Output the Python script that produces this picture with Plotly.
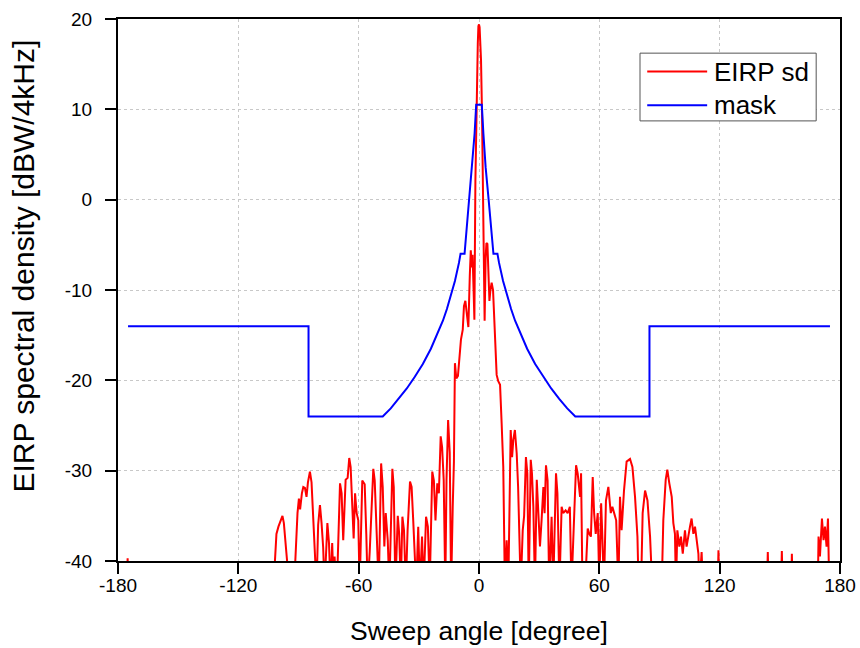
import plotly.graph_objects as go

# ---- EIRP spectral density ----
eirp_angle = [
    -180, -176, -175.2, -174.4, -150, -120, -103,
    -102, -101, -100, -99, -98, -97.3, -96.5, -95.5, -94.5, -92.5,
    -91.8, -91, -90.5, -89.8, -89.2, -88.3, -87.6, -86.8, -86, -85.3, -84.3, -83.5, -82.8, -82, -81,
    -80.2, -79.3, -78.5, -77.7, -77, -75.6, -74.8, -74, -73.2, -72.5, -72, -71,
    -69.3, -68.5, -67.7, -66.5, -65.5, -64.7, -64, -63.2, -62.5, -61.8, -61, -60.2, -59.5,
    -58.2, -57, -56.2, -55.5, -54.5, -53.7, -52.7, -52, -51, -50, -48.8, -48, -47.2, -46.5,
    -45.5, -44.7, -43.2, -42.5, -41.7, -40.5, -39.8, -39, -38.2, -37.4, -36.5, -35.6, -34.4,
    -33.6, -32.8, -32, -31.3, -30.3, -29.5, -28.4, -27.6, -26.4, -25.5, -24.6, -23.3, -22.5,
    -21.7, -20.8, -20, -19.1, -18.4, -17.6, -16.8, -16.2, -15.4, -14.6, -13.9, -13.1, -12.5,
    -12, -11.3, -10.5, -9.8, -9, -8.1, -7.5, -6.8, -6, -5.3, -4.6, -4.1, -3.6, -3.2, -2.7,
    -2.3, -1.8, -1.3, -1, -0.6, -0.3, 0, 0.3, 0.6, 1, 1.5, 2, 2.5, 2.8, 3.3, 3.7, 4.2, 4.7,
    5.2, 5.7, 6.3, 7, 7.6, 8.2, 8.8, 9.6, 10.5, 11.3, 12.1, 12.9, 13.8, 14.6, 15.8, 16.5,
    17.1, 17.9, 18.8, 19.5, 20.1, 20.8, 21.8, 22.5, 23.4, 24.1, 24.8, 25.8, 26.4, 27.1, 27.9,
    28.8, 29.6, 30.4, 31.2, 32.1, 32.7, 33.4, 34.2, 35, 36.2, 37, 38.4, 39.1, 40.1, 41.2, 42,
    43.2, 44.2, 45.3, 46.1, 47.3, 48.4, 49.2, 50.4, 50.9, 51.6, 52.9, 54.2, 55, 55.8, 56.7,
    57.4, 58.2, 59.2, 60, 60.9, 61.4, 62.3, 63.3, 64.5, 65.7, 66.5, 67.4, 68.4, 69.5, 70.3,
    71.1, 72.3, 73.6, 75.3, 76.5, 77.8, 79, 79.6, 80.8, 81.6, 82.8, 84, 85.3, 86.4, 91.1,
    91.9, 93.1, 93.9, 94.9, 96.1, 96.9, 97.7, 98.2, 98.9, 99.9, 100.7, 101.6, 102.7, 103.5,
    104.4, 105.2, 106, 106.9, 107.7, 108.5, 109.4, 109.9, 111, 112, 118.8, 119.4, 120,
    143.4, 144, 144.6, 150.4, 151, 151.6, 155.5, 156, 156.6, 168.8, 169.3, 170, 171, 171.8,
    172.5, 173.3, 174, 174.8, 180,
]
eirp_sd = [
    -48, -46, -39.7, -46, -48, -47, -45,
    -41, -37, -36.2, -35.6, -35, -35.8, -37.6, -40.5, -44, -44,
    -41, -36, -34.7, -33.1, -34.3, -32.5, -31.8, -31.9, -32.9, -31.3, -30.1, -31.3, -35, -37.5, -43,
    -36, -33.8, -35.8, -38.5, -43, -35.8, -38, -43, -38, -43, -39.5, -44,
    -31.4, -32.5, -37.7, -31, -30.8, -28.6, -29.6, -34, -37.5, -32.5, -34.7, -35.5, -43,
    -31.1, -31.5, -37, -43, -39, -35, -29.8, -31.1, -36.6, -43, -29.2, -31.8, -38.4, -34.7,
    -37.7, -43, -29.8, -31.8, -43, -35, -37, -43, -35.1, -36.6, -43, -36.6, -31.2,
    -31.8, -35.5, -38.5, -43, -36.2, -43, -37.3, -43, -35.1, -36.2, -43, -30.1, -31.1,
    -35.5, -31.4, -32.5, -26.2, -27.4, -31, -43, -31, -24.4, -28, -43, -34, -29,
    -18.1, -19.8, -19.5, -18, -15.5, -14.4, -11.8, -11.2, -13.1, -14.1, -8.5, -5.6, -7.5, -6.1, -10,
    -13.3, 2, 10, 13.6, 17.3, 19.2, 19.4, 19.1, 18, 15.5, 9.5, 0, -8, -13.4, -6.5, -4.8, -4.9, -8,
    -11.2, -10, -9.2, -10, -13, -16.5, -19.4, -20.1, -20.5, -24.8, -29.6, -43, -37.7, -43, -25.5, -28.5,
    -26.6, -25.5, -28.1, -31.8, -38.4, -43, -36.6, -35, -28.5, -30.3, -43, -28.8, -30.3, -34, -43,
    -31, -34.7, -38.4, -35.5, -31.8, -34.7, -29.4, -31.1, -43, -35.1, -43, -30.3, -32.5, -43, -34, -34.7,
    -34.4, -34.7, -34, -43, -35.5, -29.4, -30.3, -32.9, -30.3, -43, -43, -36.4, -37, -37.3, -30.7,
    -34.7, -37, -34.7, -43, -33.6, -36.6, -43, -33.3, -31.8, -34.7, -34, -34.7, -35.5, -43, -32.9,
    -36.6, -32.2, -29.0, -28.7, -29.6, -32.9, -37.3, -43, -43, -34.7, -32.2, -33.3, -37.3, -43, -43,
    -35.5, -31.0, -29.9, -31.4, -32.9, -35.8, -37, -43, -36.6, -38.4, -37.3, -39.2, -36.6, -38.4,
    -37, -36.2, -35.3, -37, -36.2, -37.7, -39.2, -43, -39, -45, -45, -38.8, -45,
    -45, -39, -45, -45, -38.9, -45, -45, -39.2, -45, -45, -37.3, -39.5, -35.3, -37.7,
    -36.2, -38.4, -35.3, -45, -48,
]

# ---- Mask ----
mask_angle = [
    -175, -85, -85, -48, -44, -40, -36, -32, -28, -24, -20, -18, -16, -14, -12, -10,
    -9.2, -7.2, -6.3, -4.8, -3.3, -2.2, -1.4, 1.4, 2.2, 3.3, 4.8, 6.3, 7.2, 9.2,
    10, 12, 14, 16, 18, 20, 24, 28, 32, 36, 40, 44, 48, 85, 85, 175,
]
mask_level = [
    -14, -14, -24, -24, -23.1, -22.05, -20.9, -19.6, -18.2, -16.5, -14.5, -13.4, -12.1, -10.65, -9.0, -7.0,
    -6.0, -6.0, -3.7, 0.0, 3.6, 7.3, 10.5, 10.5, 7.3, 3.6, 0.0, -3.7, -6.0, -6.0,
    -7.0, -9.0, -10.65, -12.1, -13.4, -14.5, -16.5, -18.2, -19.6, -20.9, -22.05, -23.1, -24, -24, -14, -14,
]

x_ticks = [-180, -120, -60, 0, 60, 120, 180]
y_ticks = [-40, -30, -20, -10, 0, 10, 20]
series_names = ["EIRP sd", "mask"]
series_colors = ["#ff0000", "#0000ff"]

FONT = "Liberation Sans, Arial, sans-serif"

fig = go.Figure()
fig.add_trace(go.Scatter(x=eirp_angle, y=eirp_sd, mode="lines", name=series_names[0],
                         line=dict(color=series_colors[0], width=2), showlegend=False))
fig.add_trace(go.Scatter(x=mask_angle, y=mask_level, mode="lines", name=series_names[1],
                         line=dict(color=series_colors[1], width=2), showlegend=False))

axis_common = dict(
    showline=True, linecolor="black", linewidth=2, mirror=True,
    ticks="outside", ticklen=11, tickwidth=2, tickcolor="black",
    showgrid=True, gridcolor="#c8c8c8", griddash="dot", gridwidth=1,
    zeroline=False, automargin=False,
    tickfont=dict(family=FONT, size=19, color="black"),
)

fig.update_layout(
    width=860, height=648,
    margin=dict(l=118, r=20, t=19, b=87),
    paper_bgcolor="white", plot_bgcolor="white",
    font=dict(family=FONT, color="black"),
    xaxis=dict(range=[-180, 180], tickvals=x_ticks, ticktext=[str(v) for v in x_ticks],
               ticklabelstandoff=-5, **axis_common),
    yaxis=dict(range=[-40, 20], tickvals=y_ticks, ticktext=[str(v) for v in y_ticks],
               ticklabelstandoff=9, **axis_common),
    showlegend=False,
)

# axis titles
fig.add_annotation(text="Sweep angle [degree]", xref="paper", yref="paper",
                   x=0.5, y=-0.13, xanchor="center", yanchor="middle",
                   showarrow=False, font=dict(family=FONT, size=26.5, color="black"))
fig.add_annotation(text="EIRP spectral density [dBW/4kHz]", xref="paper", yref="paper",
                   x=-0.131, y=0.544, xanchor="center", yanchor="middle", textangle=-90,
                   showarrow=False, font=dict(family=FONT, size=30, color="black"))

# legend box (paper coordinates)
fig.add_shape(type="rect", xref="paper", yref="paper", x0=0.723, x1=0.967, y0=0.812, y1=0.937,
              line=dict(color="#555555", width=1), fillcolor="white", layer="above")
legend_rows_y = [0.903, 0.841]
for name, color, ly in zip(series_names, series_colors, legend_rows_y):
    fig.add_shape(type="line", xref="paper", yref="paper", x0=0.733, x1=0.816, y0=ly, y1=ly,
                  line=dict(color=color, width=2), layer="above")
    fig.add_annotation(text=name, xref="paper", yref="paper", x=0.823, y=ly,
                       xanchor="left", yanchor="middle", showarrow=False,
                       font=dict(family=FONT, size=26, color="black"))

fig.write_html("out.html", config={"displayModeBar": False, "staticPlot": True},
               post_script="document.body.style.margin='0px';")
